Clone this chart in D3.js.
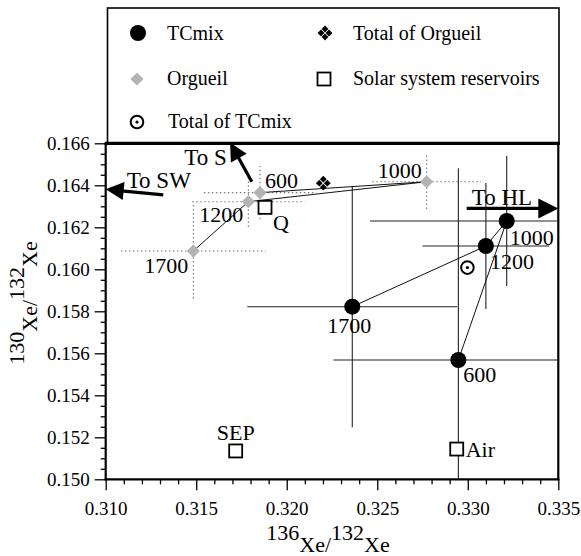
<!DOCTYPE html>
<html><head><meta charset="utf-8">
<script src="https://cdn.jsdelivr.net/npm/d3@7"></script>
<style>
html,body{margin:0;padding:0;background:#fff;}
svg{display:block;}
svg text{font-family:"Liberation Serif","Times New Roman",Times,"DejaVu Serif",serif;}
</style></head><body>
<svg id="chart" width="581" height="556"></svg>
<script>
// ---------------- data ----------------
const xTicks = [0.310, 0.315, 0.320, 0.325, 0.330, 0.335];
const yTicks = [0.150, 0.152, 0.154, 0.156, 0.158, 0.160, 0.162, 0.164, 0.166];

// TCmix step-heating fractions (temperature, 136/132, 130/132, errors)
const tcTemps = ["600", "1000", "1200", "1700"];
const tcX     = [0.32948, 0.33215, 0.33100, 0.32362];
const tcY     = [0.15568, 0.16230, 0.16111, 0.15822];
const tcXErr  = [0.0069, 0.00755, 0.0035, 0.0058];
const tcYErr  = [0.00913, 0.0031, 0.0030, 0.00574];

// Orgueil step-heating fractions
const orgTemps = ["600", "1000", "1200", "1700"];
const orgX     = [0.31852, 0.32773, 0.31788, 0.31484];
const orgY     = [0.16365, 0.16417, 0.16322, 0.16087];
const orgXErr  = [0.0031, 0.0030, 0.0031, 0.0040];
const orgYErr  = [0.00127, 0.0013, 0.0012, 0.00226];

// totals
const totalTCmix   = [0.32998, 0.16008];
const totalOrgueil = [0.32202, 0.16410];

// solar system reservoirs
const resNames = ["Q", "SEP", "Air"];
const resX     = [0.31880, 0.31718, 0.32939];
const resY     = [0.16295, 0.15135, 0.15144];

// direction arrows
const arrowNames = ["To SW", "To S", "To HL"];
const arrowFromX = [0.31318, 0.31807, 0.32994];
const arrowFromY = [0.16354, 0.16417, 0.16290];
const arrowToX   = [0.31000, 0.31687, 0.33500];
const arrowToY   = [0.16381, 0.16604, 0.16290];

const legendNames = ["TCmix", "Total of Orgueil", "Orgueil", "Solar system reservoirs", "Total of TCmix"];

// ---------------- layout ----------------
const FONT = "'Liberation Serif', 'Times New Roman', Times, 'DejaVu Serif', serif";
const L = 105.7, R = 558.3, T = 143.3, B = 479.3;
const x = d3.scaleLinear().domain([0.310, 0.335]).range([L, R]);
const y = d3.scaleLinear().domain([0.150, 0.166]).range([B, T]);
const GREY = "#b3b3b3";

const svg = d3.select("#chart").attr("font-family", FONT);

// clip
svg.append("defs").append("clipPath").attr("id", "plotclip")
  .append("rect").attr("x", L).attr("y", T).attr("width", R - L).attr("height", B - T);

// legend box
svg.append("rect").attr("x", 107.5).attr("y", 8).attr("width", 451.5).attr("height", T - 8)
  .attr("fill", "none").attr("stroke", "#000").attr("stroke-width", 1.6);

// ---------------- axes ----------------
const minorY = d3.range(0, 33).map(i => 0.150 + i * 0.0005).filter(v => yTicks.every(t => Math.abs(t - v) > 1e-9));
const minorX = d3.range(0, 26).map(i => 0.310 + i * 0.001).filter(v => xTicks.every(t => Math.abs(t - v) > 1e-9));

const yAxis = svg.append("g").attr("transform", `translate(${L},0)`)
  .call(d3.axisLeft(y).tickValues(yTicks).tickSize(11).tickPadding(5).tickFormat(d3.format(".3f")));
const yMinor = svg.append("g").attr("transform", `translate(${L},0)`)
  .call(d3.axisLeft(y).tickValues(minorY).tickSize(5).tickFormat(""));
const xAxis = svg.append("g").attr("transform", `translate(0,${B})`)
  .call(d3.axisBottom(x).tickValues(xTicks).tickSize(11).tickPadding(11).tickFormat(d3.format(".3f")));
const xMinor = svg.append("g").attr("transform", `translate(0,${B})`)
  .call(d3.axisBottom(x).tickValues(minorX).tickSize(5).tickFormat(""));

[yAxis, yMinor, xAxis, xMinor].forEach(g => {
  g.attr("font-family", FONT).attr("font-size", 19);
  g.select(".domain").remove();
  g.selectAll("line").attr("stroke", "#000").attr("stroke-width", 1.3);
  g.selectAll("text").attr("font-family", FONT).attr("font-size", 19).attr("fill", "#000");
});

// frame
const frame = svg.append("g").attr("stroke", "#000").attr("fill", "none");
frame.append("line").attr("x1", L).attr("x2", L).attr("y1", T).attr("y2", B + 1).attr("stroke-width", 2.2);
frame.append("line").attr("x1", L - 1).attr("x2", R + 1).attr("y1", B).attr("y2", B).attr("stroke-width", 2.2);
frame.append("line").attr("x1", R).attr("x2", R).attr("y1", T).attr("y2", B + 1).attr("stroke-width", 2.2);
frame.append("line").attr("x1", L - 1).attr("x2", R + 1.5).attr("y1", T).attr("y2", T).attr("stroke-width", 3.2);

// axis titles
const xt = svg.append("text").attr("transform", "translate(328,552)").attr("text-anchor", "middle")
  .attr("font-family", FONT).attr("font-size", 22);
xt.append("tspan").attr("dy", -12).text("136");
xt.append("tspan").attr("dy", 12).text("Xe/");
xt.append("tspan").attr("dy", -12).text("132");
xt.append("tspan").attr("dy", 12).text("Xe");

const yt = svg.append("text").attr("transform", "translate(37,303) rotate(-90)").attr("text-anchor", "middle")
  .attr("font-family", FONT).attr("font-size", 22);
yt.append("tspan").attr("dy", -13).text("130");
yt.append("tspan").attr("dy", 13).text("Xe/");
yt.append("tspan").attr("dy", -13).text("132");
yt.append("tspan").attr("dy", 13).text("Xe");

// ---------------- plot content ----------------
const plot = svg.append("g").attr("clip-path", "url(#plotclip)");

// TCmix error bars
tcX.forEach((v, i) => {
  plot.append("line").attr("x1", x(v - tcXErr[i])).attr("x2", x(v + tcXErr[i]))
    .attr("y1", y(tcY[i])).attr("y2", y(tcY[i])).attr("stroke", "#222").attr("stroke-width", 1.1);
  plot.append("line").attr("x1", x(v)).attr("x2", x(v))
    .attr("y1", y(tcY[i] - tcYErr[i])).attr("y2", y(tcY[i] + tcYErr[i])).attr("stroke", "#222").attr("stroke-width", 1.1);
});

// Orgueil error bars (dotted)
orgX.forEach((v, i) => {
  plot.append("line").attr("x1", x(v - orgXErr[i])).attr("x2", x(v + orgXErr[i]))
    .attr("y1", y(orgY[i])).attr("y2", y(orgY[i])).attr("stroke", "#777").attr("stroke-width", 1.1)
    .attr("stroke-dasharray", "1.5,2.5");
  plot.append("line").attr("x1", x(v)).attr("x2", x(v))
    .attr("y1", y(orgY[i] - orgYErr[i])).attr("y2", y(orgY[i] + orgYErr[i])).attr("stroke", "#777").attr("stroke-width", 1.1)
    .attr("stroke-dasharray", "1.5,2.5");
});

// connecting lines (in order of temperature)
const order = [0, 1, 2, 3];
const lineGen = d3.line();
plot.append("path")
  .attr("d", lineGen(order.map(i => [x(tcX[i]), y(tcY[i])])))
  .attr("fill", "none").attr("stroke", "#111").attr("stroke-width", 1);
plot.append("path")
  .attr("d", lineGen(order.map(i => [x(orgX[i]), y(orgY[i])])))
  .attr("fill", "none").attr("stroke", "#111").attr("stroke-width", 1);

// symbols
function diamond(g, cx, cy, h, fill) {
  g.append("path").attr("d", `M${cx},${cy - h}L${cx + h},${cy}L${cx},${cy + h}L${cx - h},${cy}Z`).attr("fill", fill);
}
function quadDiamond(g, cx, cy) {
  [[0, -4], [4, 0], [0, 4], [-4, 0]].forEach(o => diamond(g, cx + o[0], cy + o[1], 3.4, "#000"));
}
function openSquare(g, cx, cy) {
  g.append("rect").attr("x", cx - 6.5).attr("y", cy - 6.5).attr("width", 13).attr("height", 13)
    .attr("fill", "#fff").attr("stroke", "#000").attr("stroke-width", 1.8);
}
function dotCircle(g, cx, cy) {
  g.append("circle").attr("cx", cx).attr("cy", cy).attr("r", 6.3).attr("fill", "#fff").attr("stroke", "#000").attr("stroke-width", 2);
  g.append("circle").attr("cx", cx).attr("cy", cy).attr("r", 1.6).attr("fill", "#000");
}

const marks = svg.append("g").attr("font-family", FONT);
orgX.forEach((v, i) => diamond(marks, x(v), y(orgY[i]), 6.6, GREY));
tcX.forEach((v, i) => marks.append("circle").attr("cx", x(v)).attr("cy", y(tcY[i])).attr("r", 8).attr("fill", "#000"));
quadDiamond(marks, x(totalOrgueil[0]), y(totalOrgueil[1]));
dotCircle(marks, x(totalTCmix[0]), y(totalTCmix[1]));
resX.forEach((v, i) => openSquare(marks, x(v), y(resY[i])));

function label(g, px, py, anchor, size, txt) {
  return g.append("text").attr("x", px).attr("y", py).attr("text-anchor", anchor)
    .attr("font-family", FONT).attr("font-size", size).attr("fill", "#000").text(txt);
}

// temperature labels
const tcLabelOff  = [[5, 22, "start"], [3, 24, "start"], [4, 23, "start"], [-25, 26, "start"]];
const orgLabelOff = [[5, -5, "start"], [-5, -4, "end"], [-5, 20, "end"], [-5, 22, "end"]];
tcTemps.forEach((t, i) => label(marks, x(tcX[i]) + tcLabelOff[i][0], y(tcY[i]) + tcLabelOff[i][1], tcLabelOff[i][2], 22, t));
orgTemps.forEach((t, i) => label(marks, x(orgX[i]) + orgLabelOff[i][0], y(orgY[i]) + orgLabelOff[i][1], orgLabelOff[i][2], 22, t));

// reservoir labels
const resLabelOff = [[8, 23, "start"], [0, -11, "middle"], [9, 8, "start"]];
resNames.forEach((n, i) => label(marks, x(resX[i]) + resLabelOff[i][0], y(resY[i]) + resLabelOff[i][1], resLabelOff[i][2], 22, n));

// arrows
const arrowHead = [[18, 9], [18, 9], [20, 10]];
const arrowLabelOff = [[-36.6, -6.7, "start"], [-25, -16.7, "end"], [5, -3.3, "start"]];
arrowNames.forEach((n, i) => {
  const x0 = x(arrowFromX[i]), y0 = y(arrowFromY[i]), x1 = x(arrowToX[i]), y1 = y(arrowToY[i]);
  const dx = x1 - x0, dy = y1 - y0, len = Math.hypot(dx, dy), ux = dx / len, uy = dy / len;
  const [hl, hw] = arrowHead[i];
  const bx = x1 - ux * hl, by = y1 - uy * hl;
  marks.append("line").attr("x1", x0).attr("y1", y0).attr("x2", bx + ux * 2).attr("y2", by + uy * 2)
    .attr("stroke", "#000").attr("stroke-width", 3.2);
  marks.append("path").attr("d", `M${x1},${y1}L${bx - uy * hw},${by + ux * hw}L${bx + uy * hw},${by - ux * hw}Z`).attr("fill", "#000");
  label(marks, x0 + arrowLabelOff[i][0], y0 + arrowLabelOff[i][1], arrowLabelOff[i][2], 23, n);
});

// ---------------- legend ----------------
const lg = svg.append("g").attr("font-family", FONT);
const legPos = [[138, 33, 167, 40], [325, 33, 353, 40], [137, 79, 167, 85], [324, 79, 353, 85], [137, 122, 168, 128]];
lg.append("circle").attr("cx", legPos[0][0]).attr("cy", legPos[0][1]).attr("r", 8).attr("fill", "#000");
quadDiamond(lg, legPos[1][0], legPos[1][1]);
diamond(lg, legPos[2][0], legPos[2][1], 6.6, GREY);
openSquare(lg, legPos[3][0], legPos[3][1]);
dotCircle(lg, legPos[4][0], legPos[4][1]);
legendNames.forEach((n, i) => label(lg, legPos[i][2], legPos[i][3], "start", 20, n));
</script>
</body></html>
